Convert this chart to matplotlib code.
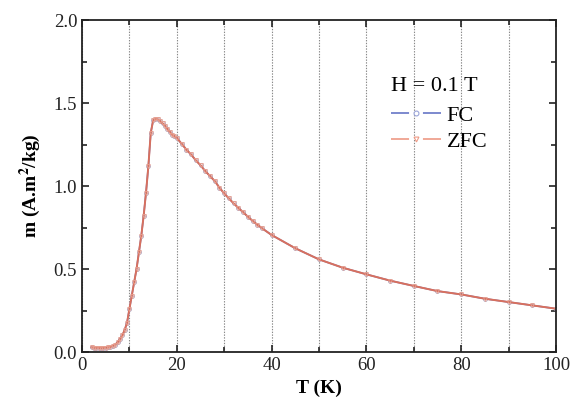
import matplotlib.pyplot as plt
from matplotlib.lines import Line2D
from matplotlib.ticker import MultipleLocator

plt.rcParams['font.family'] = ['Liberation Serif', 'DejaVu Serif']
plt.rcParams['mathtext.fontset'] = 'stix'
plt.rcParams['lines.scale_dashes'] = False

# temperature (K) and magnetization
T = [2.0, 2.5, 3.0, 3.5, 4.0, 4.5, 5.0, 5.5, 6.0, 6.5, 7.0, 7.5, 8.0, 8.5,
     9.0, 9.5, 10.0, 10.5, 11.0, 11.5, 12.0, 12.5, 13.0, 13.5, 14.0, 14.5,
     15.0, 15.5, 16.0, 16.5, 17.0, 17.5, 18.0, 18.5, 19.0, 19.5, 20.0,
     21, 22, 23, 24, 25, 26, 27, 28, 29, 30, 31, 32, 33, 34, 35, 36, 37, 38,
     40, 45, 50, 55, 60, 65, 70, 75, 80, 85, 90, 95, 100]
m_fc = [0.028, 0.027, 0.026, 0.025, 0.025, 0.025, 0.026, 0.028, 0.031, 0.037,
        0.045, 0.058, 0.078, 0.100, 0.133, 0.177, 0.26, 0.34, 0.42, 0.50,
        0.60, 0.70, 0.82, 0.96, 1.12, 1.32, 1.395, 1.405, 1.402, 1.39, 1.378,
        1.362, 1.345, 1.327, 1.31, 1.30, 1.29,
        1.255, 1.22, 1.19, 1.155, 1.125, 1.09, 1.06, 1.03, 0.99, 0.955, 0.925,
        0.895, 0.868, 0.842, 0.815, 0.79, 0.767, 0.745,
        0.705, 0.625, 0.558, 0.508, 0.468, 0.43, 0.398, 0.367, 0.347, 0.321,
        0.301, 0.281, 0.261]
m_zfc = [0.028, 0.027, 0.026, 0.025, 0.025, 0.025, 0.026, 0.028, 0.031, 0.037,
         0.045, 0.058, 0.078, 0.100, 0.133, 0.177, 0.26, 0.34, 0.42, 0.50,
         0.60, 0.70, 0.82, 0.96, 1.12, 1.32, 1.395, 1.405, 1.402, 1.39, 1.378,
         1.362, 1.345, 1.327, 1.31, 1.30, 1.29,
         1.255, 1.22, 1.19, 1.155, 1.125, 1.09, 1.06, 1.03, 0.99, 0.955, 0.925,
         0.895, 0.868, 0.842, 0.815, 0.79, 0.767, 0.745,
         0.705, 0.625, 0.558, 0.508, 0.468, 0.43, 0.398, 0.367, 0.347, 0.321,
         0.301, 0.281, 0.261]

fc_col = '#6676c6'
zfc_col = '#d8705e'

fig = plt.figure(figsize=(5.72, 4.07), dpi=100)
ax = fig.add_axes([0.1434, 0.1351, 0.8286, 0.8157])

ax.plot(T, m_fc, '-', color=fc_col, lw=1.2, marker='o', ms=2.8,
        mfc='none', mec='#b0a0b8', mew=0.6)
ax.plot(T, m_zfc, '-', color=zfc_col, lw=1.4, marker='v', ms=2.8,
        mfc='none', mec='#e8a090', mew=0.6)

ax.set_xlim(0, 100)
ax.set_ylim(0, 2.0)
ax.xaxis.set_major_locator(MultipleLocator(20))
ax.xaxis.set_minor_locator(MultipleLocator(10))
ax.yaxis.set_major_locator(MultipleLocator(0.5))
ax.yaxis.set_minor_locator(MultipleLocator(0.25))
ax.tick_params(which='both', direction='in', top=True, right=True,
               labelsize=13.5, width=1.2, colors='#222222')
ax.tick_params(which='major', length=5)
ax.tick_params(which='minor', length=3.5)
ax.xaxis.grid(True, which='both', ls=(0, (1, 1)), color='#8a8a8a', lw=0.8)
for s in ax.spines.values():
    s.set_linewidth(1.3)
    s.set_color('#222222')

ax.set_xlabel('T (K)', fontsize=14, fontweight='bold', labelpad=4)
ax.set_ylabel(r'm (A.m$^{\mathbf{2}}$/kg)', fontsize=14, fontweight='bold',
              labelpad=8)

# legend handles: dash - marker - dash
h_fc = Line2D([], [], color=fc_col, lw=1.2, ls=(0, (13, 10, 13, 100)),
              marker='o', ms=3.5, mfc='white', mec='#9aa4d8', mew=0.8)
h_zfc = Line2D([], [], color='#ee9a85', lw=1.2, ls=(0, (13, 10, 13, 100)),
               marker='v', ms=3.5, mfc='white', mec='#ee9a85', mew=0.8)
leg = ax.legend([h_fc, h_zfc], ['FC', 'ZFC'], loc='upper left',
                bbox_to_anchor=(0.61, 0.89), frameon=False,
                title='H = 0.1 T', fontsize=16, title_fontsize=16,
                numpoints=1, handlelength=2.25, handletextpad=0.25,
                labelspacing=0.25, alignment='left')
leg._legend_box.sep = 7

fig.savefig('out.png', dpi=100)
